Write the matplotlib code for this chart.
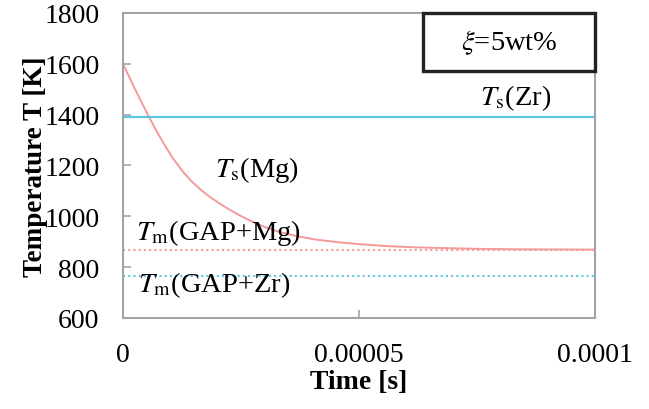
import matplotlib
matplotlib.use("Agg")
import matplotlib.pyplot as plt
from matplotlib.patches import Rectangle

# Data
time_s = [0, 1.2e-6, 2.5e-6, 4.0e-6, 5.36e-6, 7.0e-6, 8.5e-6, 10.5e-6, 12.8e-6, 14.5e-6,
          16.5e-6, 18.5e-6, 20.5e-6, 22.5e-6, 24.5e-6, 27e-6, 30e-6, 33e-6, 36.8e-6,
          41e-6, 46.6e-6, 51e-6, 56.6e-6, 62e-6, 68e-6, 75e-6, 85e-6, 100e-6]
temp_K = [1600, 1553, 1502, 1446, 1396, 1339, 1290, 1230, 1173, 1138,
          1104, 1075, 1050, 1027, 1006, 982, 958, 939, 922,
          908, 896, 889, 882, 878, 875, 872, 870, 869]
ts_zr = 1390
tm_gap_mg = 868
tm_gap_zr = 765
x_ticks = [0, 0.00005, 0.0001]
x_tick_labels = ["0", "0.00005", "0.0001"]
y_ticks = [600, 800, 1000, 1200, 1400, 1600, 1800]

plt.rcParams['font.family'] = ['Liberation Serif', 'DejaVu Serif']
plt.rcParams['mathtext.fontset'] = 'stix'

fig = plt.figure(figsize=(6.49, 4.10), dpi=100)
ax = fig.add_axes([0.1895, 0.222, 0.7273, 0.744])

red = '#f49a9a'
blue = '#5cc6e6'

ax.plot(time_s, temp_K, color=red, lw=1.4)
ax.axhline(ts_zr, color=blue, lw=1.6)
ax.axhline(tm_gap_mg, color=red, lw=1.5, ls=(0, (1, 1.5)))
ax.axhline(tm_gap_zr, color=blue, lw=1.5, ls=(0, (1, 1.5)))

ax.set_xlim(0, 0.0001)
ax.set_ylim(600, 1800)
ax.set_xticks(x_ticks)
ax.set_xticklabels(x_tick_labels)
ax.set_yticks(y_ticks)

for s in ax.spines.values():
    s.set_color('#a0a4a8')
    s.set_linewidth(1.5)
ax.tick_params(axis='both', direction='in', length=6, width=1.2, colors='#a0a4a8',
               labelcolor='black', labelsize=20)
ax.tick_params(axis='x', pad=17)
ax.tick_params(axis='y', pad=17)

ax.set_xlabel('Time [s]', fontsize=20, fontweight='bold', labelpad=2)
ax.set_ylabel('Temperature T [K]', fontsize=19.5, fontweight='bold', labelpad=-3)

fs = 20.5
ax.text(0.0000195, 1186, r'$T_{\rm s}$(Mg)', fontsize=fs, ha='left', va='center')
ax.text(0.0000756, 1470, r'$T_{\rm s}$(Zr)', fontsize=fs, ha='left', va='center')
ax.text(0.0000027, 938, r'$T_{\rm m}$(GAP+Mg)', fontsize=fs, ha='left', va='center')
ax.text(0.0000032, 734, r'$T_{\rm m}$(GAP+Zr)', fontsize=fs, ha='left', va='center')

rect = Rectangle((0.636, 0.81), 0.364, 0.19, transform=ax.transAxes,
                 facecolor='white', edgecolor='#222222', lw=2.4, clip_on=False, zorder=5)
ax.add_patch(rect)
ax.text(0.818, 0.905, r'$\xi$=5wt%', transform=ax.transAxes, fontsize=fs,
        ha='center', va='center', zorder=6)

fig.savefig('out.png', dpi=100)
